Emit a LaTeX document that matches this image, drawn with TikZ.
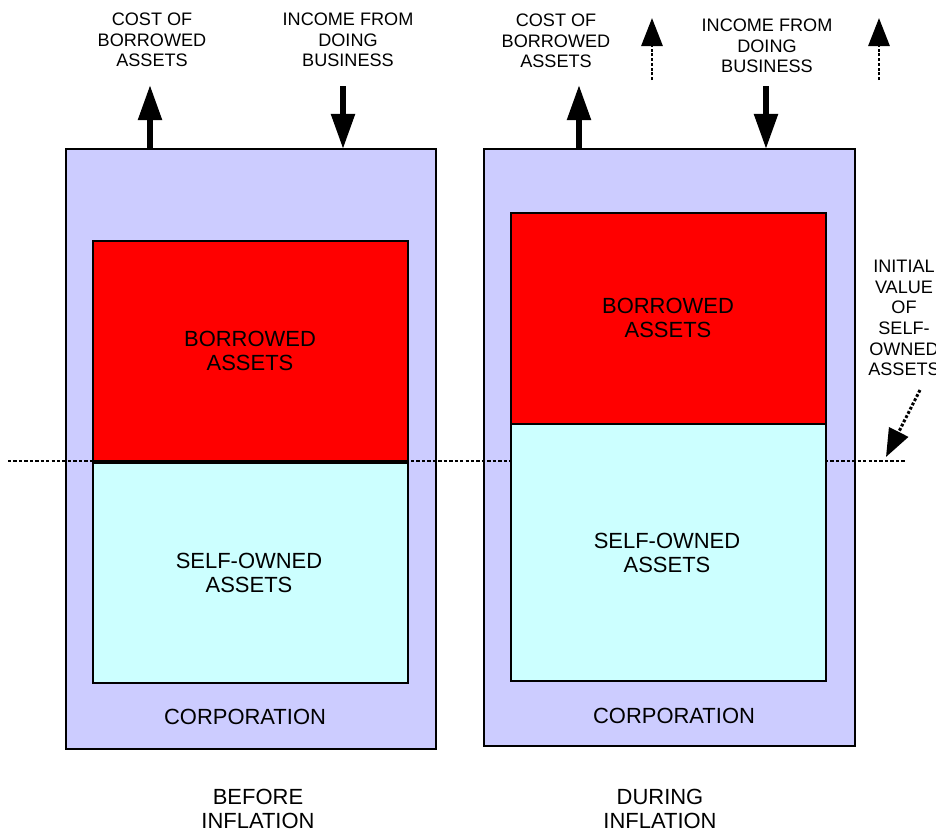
\documentclass[tikz,border=0pt]{standalone}
\usepackage{fontspec}
\setmainfont{Liberation Sans}
\usetikzlibrary{arrows.meta}

\definecolor{corpblue}{RGB}{204,204,255}
\definecolor{selfcyan}{RGB}{204,255,255}
\definecolor{borrowred}{RGB}{255,0,0}

\tikzset{
  box/.style={draw=black, line width=1.2pt},
  big/.style={font=\fontsize{12.5}{13.8}\selectfont, align=center},
  small/.style={font=\fontsize{10.3}{11.8}\selectfont, align=center},
  flow/.style={line width=3.4pt, -{Triangle[width=13pt,length=20pt]}},
  guess/.style={line width=1.7pt, dash pattern=on 1.6pt off 1.1pt,
    -{Triangle[width=12pt,length=16pt]}},
  level/.style={line width=1.6pt, dash pattern=on 1.9pt off 1.2pt},
}

\begin{document}
\begin{tikzpicture}[x=0.02cm,y=-0.02cm]
 \useasboundingbox (0,0) rectangle (941,836);
 \clip (0,0) rectangle (935,836);

 % the two corporations
 \draw[box,fill=corpblue] (66,149) rectangle (436,749);
 \draw[box,fill=corpblue] (484,149) rectangle (855,746);

 % initial value of self-owned assets
 \coordinate (lvlW) at (8,461);
 \coordinate (lvlE) at (906,461);
 \draw[level] (lvlW) -- (lvlE);

 % balance of each corporation
 \foreach \l/\r/\t/\m/\b in {93/408/241/462/683, 511/826/213/424/681}
  {
    \draw[box,fill=borrowred] (\l,\t) rectangle (\r,\m);
    \draw[box,fill=selfcyan] (\l,\m) rectangle (\r,\b);
  }
 \draw[line width=2pt] (93,462) -- (408,462);

 \node[big] (borA) at (250,351) {BORROWED\\ASSETS};
 \node[big] (selfA) at (249,573) {SELF-OWNED\\ASSETS};
 \node[big] (corpA) at (245,717) {CORPORATION};
 \node[big] (borB) at (668,318) {BORROWED\\ASSETS};
 \node[big] (selfB) at (667,553) {SELF-OWNED\\ASSETS};
 \node[big] (corpB) at (674,716) {CORPORATION};

 % flows in and out
 \node[small] (costA) at (152,40) {COST OF\\BORROWED\\ASSETS};
 \node[small] (incA) at (348,40) {INCOME FROM\\DOING\\BUSINESS};
 \node[small] (costB) at (556,41) {COST OF\\BORROWED\\ASSETS};
 \node[small] (incB) at (767,46) {INCOME FROM\\DOING\\BUSINESS};

 \coordinate (costAbot) at (150,149);
 \coordinate (costAtop) at (150,85);
 \coordinate (incAtop) at (343,86);
 \coordinate (incAbot) at (343,149);
 \coordinate (costBbot) at (579,149);
 \coordinate (costBtop) at (579,85);
 \coordinate (incBtop) at (766,86);
 \coordinate (incBbot) at (766,149);
 \draw[flow] (costAbot) -- (costAtop);
 \draw[flow] (incAtop) -- (incAbot);
 \draw[flow] (costBbot) -- (costBtop);
 \draw[flow] (incBtop) -- (incBbot);

 % both grow during inflation
 \coordinate (upCbot) at (652,80);
 \coordinate (upCtop) at (652,18);
 \coordinate (upIbot) at (879,80);
 \coordinate (upItop) at (879,18);
 \draw[guess] (upCbot) -- (upCtop);
 \draw[guess] (upIbot) -- (upItop);

 \node[small] (initV) at (904,318) {INITIAL\\VALUE\\OF\\SELF-\\OWNED\\ASSETS};
 \coordinate (initTail) at (920,390);
 \coordinate (initHead) at (886,457);
 \draw[guess] (initTail) -- (initHead);

 % the two moments
 \node[big] (before) at (258,809) {BEFORE\\INFLATION};
 \node[big] (during) at (660,809) {DURING\\INFLATION};
\end{tikzpicture}
\end{document}
